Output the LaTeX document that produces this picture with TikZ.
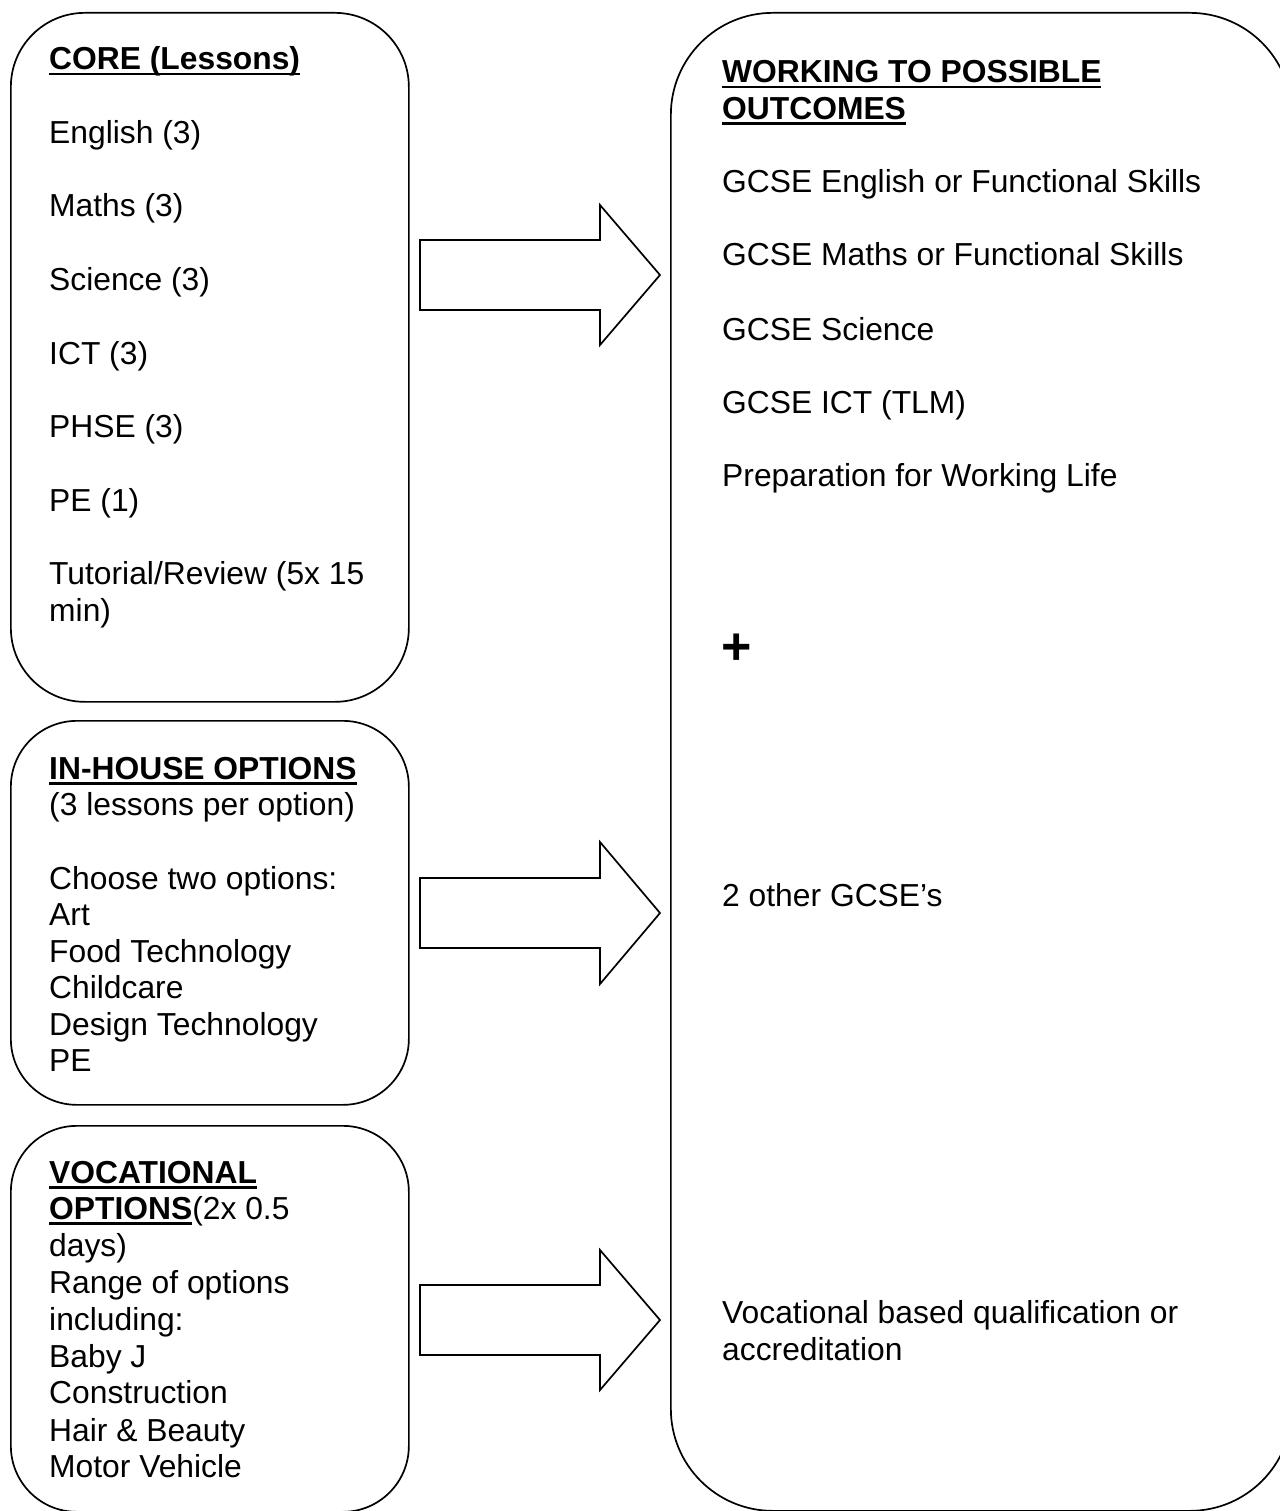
\documentclass[tikz,border=0pt]{standalone}
\usepackage{fontspec}
\setmainfont{Liberation Sans}
\newcommand\hdul[1]{\setbox0\hbox{\bfseries #1}\rlap{\rule[-5.5pt]{\wd0}{2.8pt}}\box0}
\begin{document}
\begin{tikzpicture}[x=1pt,y=-1pt,
  box/.style={draw, line width=1.7pt, rounded corners=66pt, inner sep=0pt, anchor=north west},
  txt/.style={anchor=base west, inner sep=0pt, font=\fontsize{31.8}{36.75}\selectfont},
  blockarrow/.style={draw, line width=1.7pt, line join=miter}]
\useasboundingbox[fill=white] (0,0) rectangle (1279,1511);

% boxes
\node[box, rounded corners=74pt, minimum width=398pt, minimum height=689pt] (core) at (10,12) {};
\node[box, minimum width=398pt, minimum height=384pt] (inhouse) at (10,720) {};
\node[box, minimum width=398pt, minimum height=386pt] (voc) at (10,1125) {};
\node[box, rounded corners=102pt, minimum width=621pt, minimum height=1498pt] (out) at (670,12) {};

% block arrows
\draw[blockarrow] (420,240) -- (600,240) -- (600,205) -- (660,275) -- (600,345) -- (600,310) -- (420,310) -- cycle;
\draw[blockarrow] (420,878) -- (600,878) -- (600,842) -- (660,913) -- (600,984) -- (600,948) -- (420,948) -- cycle;
\draw[blockarrow] (420,1285) -- (600,1285) -- (600,1250) -- (660,1320) -- (600,1390) -- (600,1355) -- (420,1355) -- cycle;

% core text
\node[txt] (c0) at (49,70) {\hdul{CORE (Lessons)}};
\node[txt] (c1) at (49,143.5) {English (3)};
\node[txt] (c2) at (49,217) {Maths (3)};
\node[txt] (c3) at (49,290.5) {Science (3)};
\node[txt] (c4) at (49,364) {ICT (3)};
\node[txt] (c5) at (49,437.5) {PHSE (3)};
\node[txt] (c6) at (49,511) {PE (1)};
\node[txt] (c7) at (49,584.5) {Tutorial/Review (5x 15};
\node[txt] (c8) at (49,621) {min)};

% in-house text
\node[txt] (h0) at (49,779) {\hdul{IN-HOUSE OPTIONS}};
\node[txt] (h1) at (49,815) {(3 lessons per option)};
\node[txt] (h2) at (49,889) {Choose two options:};
\node[txt] (h3) at (49,925) {Art};
\node[txt] (h4) at (49,962) {Food Technology};
\node[txt] (h5) at (49,998) {Childcare};
\node[txt] (h6) at (49,1035) {Design Technology};
\node[txt] (h7) at (49,1071) {PE};

% vocational text
\node[txt] (v0) at (49,1183) {\hdul{VOCATIONAL}};
\node[txt] (v1) at (49,1219) {\hdul{OPTIONS}(2x 0.5};
\node[txt] (v2) at (49,1256) {days)};
\node[txt] (v3) at (49,1293) {Range of options};
\node[txt] (v4) at (49,1330) {including:};
\node[txt] (v5) at (49,1367) {Baby J};
\node[txt] (v6) at (49,1403) {Construction};
\node[txt] (v7) at (49,1441) {Hair \& Beauty};
\node[txt] (v8) at (49,1477) {Motor Vehicle};

% outcomes text
\node[txt] (o0) at (722,83) {\hdul{WORKING TO POSSIBLE}};
\node[txt] (o1) at (722,119.5) {\hdul{OUTCOMES}};
\node[txt] (o2) at (722,193) {GCSE English or Functional Skills};
\node[txt] (o3) at (722,266) {GCSE Maths or Functional Skills};
\node[txt] (o4) at (722,340) {GCSE Science};
\node[txt] (o5) at (722,413) {GCSE ICT (TLM)};
\node[txt] (o6) at (722,486) {Preparation for Working Life};
\node[inner sep=0pt, font=\fontsize{52}{52}\selectfont\bfseries] (plus) at (737,649) {+};
\node[txt] (o7) at (722,906) {2 other GCSE’s};
\node[txt] (o8) at (722,1323) {Vocational based qualification or};
\node[txt] (o9) at (722,1360) {accreditation};
\end{tikzpicture}
\end{document}
